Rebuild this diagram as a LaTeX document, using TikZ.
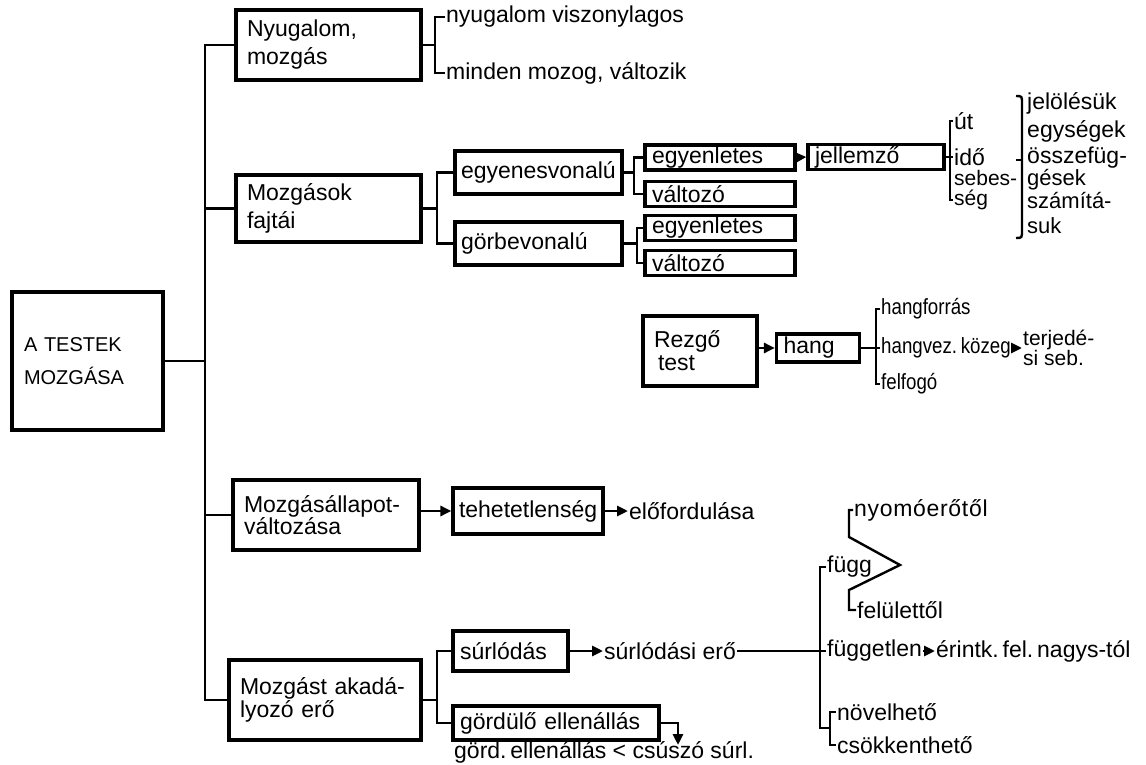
\documentclass[tikz,border=0pt]{standalone}
\usepackage{fontspec}
\setmainfont{Liberation Sans}
\newfontfamily\narrowfont[FakeStretch=0.85]{Liberation Sans}
\usetikzlibrary{arrows.meta}
\begin{document}
\begin{tikzpicture}[x=1pt,y=-1pt,
  box/.style={draw,line width=3.2pt,inner xsep=11pt,inner ysep=0pt,align=left,font=\fontsize{23}{28}\selectfont},
  cell/.style={box,inner xsep=7pt,minimum height=25pt},
  txt/.style={anchor=west,inner sep=1pt,font=\fontsize{23}{28}\selectfont},
  conn/.style={line width=2.8pt},
  tick/.style={line width=2.4pt},
  arr/.style={line width=2.8pt,-{Triangle[length=11pt,width=10pt]}}]
\useasboundingbox (0,0) rectangle (1146,765);

% main box and trunk
\node[box,text width=127pt,minimum height=138pt,inner xsep=12pt,font=\fontsize{20}{24}\selectfont] (main) at (87.5,361) {A TESTEK\\[9pt]MOZGÁSA};
\coordinate (trunk) at (205,0);
\node[box,text width=163pt,minimum height=70pt] (nyug) at (328.5,45) {Nyugalom,\\mozgás};
\node[box,text width=163pt,minimum height=67pt] (fajt) at (328.5,208.5) {Mozgások\\fajtái};
\node[box,text width=164pt,minimum height=70pt] (allap) at (326,515) {Mozgásállapot-\\[-6pt]változása};
\node[box,text width=170pt,minimum height=80pt] (akad) at (325,700) {Mozgást akadá-\\[-5pt]lyozó erő};
\draw[conn] (nyug.west) -| (trunk |- akad.west) -- (akad.west);
\draw[conn] (fajt.west) -- (fajt.west -| trunk);
\draw[conn] (allap.west) -- (allap.west -| trunk);
\draw[conn] (main.east) -- (main.east -| trunk);

% nyugalom
\node[txt] (nyu1) at (445,17) {nyugalom viszonylagos};
\node[txt] (nyu2) at (445,73) {minden mozog, változik};
\coordinate (b1) at (435,0);
\draw[conn] (nyug.east) -- (nyug.east -| b1);
\draw[tick] (nyu1.west) -| (b1 |- nyu2.west) -- (nyu2.west);

% mozgasok fajtai
\node[box,text width=155pt,minimum height=43pt,inner xsep=6pt] (egy) at (538.5,172.5) {egyenesvonalú};
\node[box,text width=155pt,minimum height=43pt,inner xsep=6pt] (gorb) at (538.5,243.5) {görbevonalú};
\coordinate (b4) at (437,0);
\draw[conn] (fajt.east) -- (fajt.east -| b4);
\draw[conn] (egy.west) -| (b4 |- gorb.west) -- (gorb.west);
\node[cell,text width=136pt] (eg1) at (720,157.5) {egyenletes};
\node[cell,text width=136pt] (va1) at (720,194) {változó};
\node[cell,text width=136pt] (eg2) at (720,228) {egyenletes};
\node[cell,text width=136pt] (va2) at (720,263) {változó};
\coordinate (b2) at (634,0);
\coordinate (b3) at (637,0);
\draw[conn] (egy.east) -- (egy.east -| b2);
\draw[tick] (eg1.west) -| (b2 |- va1.west) -- (va1.west);
\draw[conn] (gorb.east) -- (gorb.east -| b3);
\draw[tick] (eg2.west) -| (b3 |- va2.west) -- (va2.west);

% jellemzo
\node[cell,text width=122pt] (jell) at (876,157) {jellemző};
\draw[arr] (eg1.east) -- (jell.west);
\node[txt] (ut) at (953,121) {út};
\node[txt] (ido) at (953,157) {idő};
\node[txt,font=\fontsize{21}{24}\selectfont] (sebes) at (953,178) {sebes-};
\node[txt,font=\fontsize{21}{24}\selectfont] (seg) at (953,200) {ség};
\coordinate (b5) at (950,0);
\draw[tick] (jell.east) -- (ido.west);
\draw[tick] (ut.west) -| (b5 |- seg.west) -- (seg.west);
\node[txt] (jel) at (1026,103) {jelölésük};
\node[txt] (egys) at (1026,131) {egységek};
\node[txt] (ossz) at (1026,158) {összefüg-};
\node[txt,font=\fontsize{22}{26}\selectfont] (ges) at (1026,180) {gések};
\node[txt,font=\fontsize{22}{26}\selectfont] (szam) at (1026,201) {számítá-};
\node[txt,font=\fontsize{22}{26}\selectfont] (suk) at (1026,226) {suk};
\draw[tick] (1016,96) .. controls (1022,96) .. (1022,104) -- (1022,230) .. controls (1022,238) .. (1016,238);
\draw[tick] (1016,160) -- (1022,160);

% hang
\node[box,text width=92pt,minimum height=70pt] (rezgo) at (700,351) {Rezgő\\[-5pt]\hspace*{4pt}test};
\node[cell,text width=69pt,minimum height=28pt] (hang) at (818,348) {hang};
\draw[arr] (rezgo.east |- hang.west) -- (hang.west);
\node[txt,font=\narrowfont\fontsize{22}{26}\selectfont] (forr) at (880,309) {hangforrás};
\node[txt,font=\narrowfont\fontsize{22}{26}\selectfont] (kozeg) at (880,348) {hangvez.\,közeg};
\node[txt,font=\narrowfont\fontsize{22}{26}\selectfont] (felf) at (880,384) {felfogó};
\coordinate (b6) at (876,0);
\draw[conn] (hang.east) -- (kozeg.west);
\draw[tick] (forr.west) -| (b6 |- felf.west) -- (felf.west);
\node[txt,align=left,font=\fontsize{21}{18}\selectfont] (terj) at (1022,348) {terjedé-\\si seb.};
\draw[arr] (kozeg.east) -- (terj.west);

% mozgasallapot
\node[box,text width=138pt,minimum height=46pt,inner xsep=6pt] (teh) at (528,511) {tehetetlenség};
\node[txt] (elo) at (628,511) {előfordulása};
\draw[arr] (allap.east |- teh.west) -- (teh.west);
\draw[arr] (teh.east) -- (elo.west);

% surlodas
\node[cell,text width=101pt,minimum height=40pt] (surl) at (510.5,651) {súrlódás};
\node[cell,text width=192pt,minimum height=34pt] (gord) at (556,723) {gördülő ellenállás};
\coordinate (b7) at (437,0);
\draw[conn] (akad.east) -- (akad.east -| b7);
\draw[conn] (surl.west) -| (b7 |- gord.west) -- (gord.west);
\node[txt] (srl) at (603,651) {súrlódási erő};
\draw[arr] (surl.east) -- (srl.west);
\node[txt] (gel) at (453,752) {görd.\,ellenállás < csúszó súrl.};
\coordinate (le) at (678,745);
\draw[arr] (gord.east) -| (le);

% fugg
\node[txt,font=\fontsize{23}{28}\selectfont\addfontfeatures{LetterSpace=3}] (nyomo) at (853,510) {nyomóerőtől};
\node[txt] (fugg) at (826,567) {függ};
\node[txt] (felu) at (856,610) {felülettől};
\node[txt] (fgtl) at (826,651) {független};
\node[txt] (erint) at (935,651) {érintk.\,fel.\,nagys-tól};
\node[txt] (nov) at (836,712) {növelhető};
\node[txt] (csok) at (836,745) {csökkenthető};
\coordinate (b8) at (820,0);
\coordinate (kis) at (830,728);
\coordinate (k1) at (849,537);
\coordinate (csucs) at (900,565);
\coordinate (k2) at (849,590);
\draw[conn] (srl.east) -- (fgtl.west);
\draw[conn] (fugg.west) -| (b8 |- kis) -- (kis);
\draw[tick] (nov.west) -| (kis |- csok.west) -- (csok.west);
\draw[tick] (nyomo.west) -| (k1) -- (csucs) -- (k2) |- (felu.west);
\draw[arr] (fgtl.east) -- (erint.west);
\end{tikzpicture}
\end{document}
